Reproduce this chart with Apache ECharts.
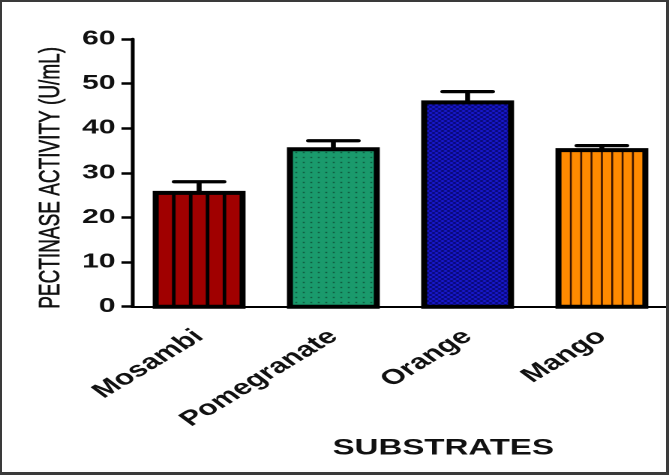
<!DOCTYPE html>
<html>
<head>
<meta charset="utf-8">
<script src="https://cdn.jsdelivr.net/npm/echarts@6/dist/echarts.min.js"></script>
<style>
    body { margin: 0; background: #fff; }
    #wrap { position: relative; width: 669px; height: 475px; overflow: hidden; background: #fff; }
    /* the source figure is stretched sideways, so the chart is drawn narrow and widened */
    #echart { position: absolute; left: 0; top: 0; width: 446px; height: 475px; transform: scaleX(1.5); transform-origin: 0 0; }
    #frame { position: absolute; left: 0; top: 0; width: 669px; height: 475px; box-sizing: border-box;
             border-style: solid; border-color: #3a3a3a; border-width: 2px 3px 3px 2px; pointer-events: none; }
</style>
</head>
<body>
<div id="wrap">
    <div id="echart"></div>
    <div id="frame"></div>
</div>
<script>
var categories = ['Mosambi', 'Pomegranate', 'Orange', 'Mango'];
var activity = [25.5, 35.3, 45.8, 35.1];
var errors = [2.5, 1.9, 2.4, 1.0];

var baseColors = ['#a00000', '#1a9a6c', '#1616c0', '#ff8a00'];

function makeTile(w, h, draw) {
    var c = document.createElement('canvas');
    c.width = w;
    c.height = h;
    draw(c.getContext('2d'));
    return c;
}

// dotted texture for pomegranate
var dotTile = makeTile(5, 5, function (ctx) {
    ctx.fillStyle = '#1a9a6c';
    ctx.fillRect(0, 0, 5, 5);
    ctx.fillStyle = '#0b3b2a';
    ctx.fillRect(2, 2, 1, 1);
});
// checker texture for orange
var checkTile = makeTile(4, 4, function (ctx) {
    ctx.fillStyle = '#1a1ad6';
    ctx.fillRect(0, 0, 4, 4);
    ctx.fillStyle = '#07076e';
    ctx.fillRect(0, 0, 2, 2);
    ctx.fillRect(2, 2, 2, 2);
});

function barFill(i) {
    if (i == 1) return {image: dotTile, repeat: 'repeat'};
    if (i == 2) return {image: checkTile, repeat: 'repeat'};
    return baseColors[i];
}

var BORDER = 4;

function renderBar(params, api) {
    var idx = api.value(0);
    var top = api.coord([idx, api.value(1)]);
    var base = api.coord([idx, 0]);
    var band = api.size([1, 0])[0];
    var w = band * 0.647;
    var x = top[0] - w / 2;
    var h = base[1] - top[1];
    var kids = [{
        type: 'rect',
        shape: {x: x, y: top[1], width: w, height: h},
        style: {fill: barFill(idx)}
    }];
    var inner = w - BORDER;
    var n, lw, color;
    if (idx == 0) { n = 4; lw = 2.4; color = '#000'; }
    if (idx == 3) { n = 7; lw = 1.3; color = '#3a1400'; }
    if (n) {
        var gap = (inner - n * lw) / (n + 1);
        for (var k = 1; k <= n; k++) {
            kids.push({
                type: 'rect',
                shape: {x: x + BORDER / 2 + k * gap + (k - 1) * lw, y: top[1], width: lw, height: h},
                style: {fill: color}
            });
        }
    }
    kids.push({
        type: 'rect',
        shape: {x: x, y: top[1], width: w, height: h},
        style: {fill: 'none', stroke: '#000', lineWidth: BORDER}
    });
    return {type: 'group', children: kids};
}

function renderError(params, api) {
    var idx = api.value(0);
    var val = api.value(1);
    var top = api.coord([idx, val]);
    var hi = api.coord([idx, val + api.value(2)]);
    var capW = api.size([1, 0])[0] * 0.37;
    return {
        type: 'group',
        children: [{
            type: 'line',
            shape: {x1: top[0], y1: top[1], x2: hi[0], y2: hi[1]},
            style: {stroke: '#000', lineWidth: 3.3}
        }, {
            type: 'line',
            shape: {x1: hi[0] - capW / 2, y1: hi[1], x2: hi[0] + capW / 2, y2: hi[1]},
            style: {stroke: '#000', lineWidth: 3.3, lineCap: 'round'}
        }]
    };
}

var barData = [];
var errData = [];
for (var i = 0; i < categories.length; i++) {
    barData.push([i, activity[i]]);
    errData.push([i, activity[i], errors[i]]);
}

var myChart = echarts.init(document.getElementById('echart'), null, {devicePixelRatio: 2});
var option = {
    animation: false,
    grid: {left: 88, top: 39, width: 359, bottom: 168.3},
    xAxis: {
        type: 'category',
        data: categories,
        name: 'SUBSTRATES',
        nameLocation: 'middle',
        nameGap: 126,
        nameTextStyle: {
            fontFamily: 'Liberation Sans', fontWeight: 'bold', fontSize: 22, color: '#111',
            padding: [0, 0, 0, 57]
        },
        axisLine: {lineStyle: {color: '#000', width: 2}},
        axisTick: {alignWithLabel: true, length: 9, lineStyle: {color: '#000', width: 2}},
        axisLabel: {
            rotate: 42, margin: 27, interval: 0,
            fontFamily: 'Liberation Sans', fontWeight: 'bold', fontSize: 21, color: '#111'
        }
    },
    yAxis: {
        type: 'value',
        min: 0,
        max: 60,
        interval: 10,
        name: 'PECTINASE ACTIVITY (U/mL)',
        nameLocation: 'middle',
        nameRotate: 90,
        nameGap: 35,
        nameTextStyle: {
            fontFamily: 'Liberation Sans', fontSize: 19, color: '#111',
            textBorderColor: '#111', textBorderWidth: 0.4, padding: [0, 10, 0, 0]
        },
        splitLine: {show: false},
        axisLine: {show: true, lineStyle: {color: '#000', width: 2.5}},
        axisTick: {show: true, length: 7, lineStyle: {color: '#000', width: 2.5}},
        axisLabel: {
            margin: 11,
            fontFamily: 'Liberation Sans', fontWeight: 'bold', fontSize: 20, color: '#111'
        }
    },
    series: [{
        type: 'custom',
        renderItem: renderBar,
        encode: {x: 0, y: 1},
        data: barData
    }, {
        type: 'custom',
        renderItem: renderError,
        encode: {x: 0, y: [1, 2]},
        data: errData,
        z: 3
    }]
};
myChart.setOption(option);
</script>
</body>
</html>
